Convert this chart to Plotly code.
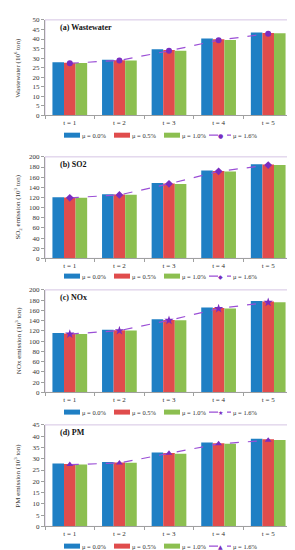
import plotly.graph_objects as go

categories = ["t = 1", "t = 2", "t = 3", "t = 4", "t = 5"]
series_names = ["μ = 0.0%", "μ = 0.5%", "μ = 1.0%", "μ = 1.6%"]

wastewater_00 = [27.9, 29.1, 34.6, 40.3, 43.4]
wastewater_05 = [27.6, 28.9, 34.2, 39.9, 43.2]
wastewater_10 = [27.5, 28.7, 33.9, 39.5, 43.0]
wastewater_16 = [27.3, 28.8, 33.8, 39.4, 42.8]

so2_00 = [120.6, 126.5, 148.6, 172.9, 185.3]
so2_05 = [120.0, 125.8, 147.3, 172.2, 185.0]
so2_10 = [119.4, 125.2, 146.5, 171.0, 184.0]
so2_16 = [119.3, 125.0, 146.8, 171.4, 183.8]

nox_00 = [115.7, 122.0, 142.5, 165.6, 178.3]
nox_05 = [115.0, 121.4, 141.3, 164.9, 177.6]
nox_10 = [113.9, 120.8, 140.6, 163.7, 175.9]
nox_16 = [113.8, 120.5, 140.6, 163.6, 175.8]

pm_00 = [27.9, 28.6, 32.8, 37.2, 38.9]
pm_05 = [27.7, 28.3, 32.5, 36.9, 38.6]
pm_10 = [27.4, 28.2, 32.2, 36.7, 38.3]
pm_16 = [27.4, 28.1, 32.4, 36.6, 38.2]

panels = [
    dict(title="(a) Wastewater", ytitle="Wastewater (10<sup>6</sup> ton)", data=[wastewater_00, wastewater_05, wastewater_10, wastewater_16],
         yrange=[0, 50], dtick=5, symbol="circle", glyph="●", msize=6),
    dict(title="(b) SO2", ytitle="SO<sub>2</sub> emission (10<sup>3</sup> ton)", data=[so2_00, so2_05, so2_10, so2_16],
         yrange=[0, 200], dtick=20, symbol="diamond", glyph="◆", msize=6),
    dict(title="(c) NOx", ytitle="NOx emission (10<sup>3</sup> ton)", data=[nox_00, nox_05, nox_10, nox_16],
         yrange=[0, 200], dtick=20, symbol="star", glyph="★", msize=7),
    dict(title="(d) PM", ytitle="PM emission (10<sup>3</sup> ton)", data=[pm_00, pm_05, pm_10, pm_16],
         yrange=[0, 45], dtick=5, symbol="triangle-up", glyph="▲", msize=6),
]

W, H = 295, 550
plot_px = [(8, 105), (147, 250), (282, 386), (419, 522)]
legend_px = [125, 268, 406, 542]
x_left, x_right = 37, 285
# legend swatch start positions (px) and swatch widths
leg_x = [56, 106, 156, 201]
leg_w = [16, 16, 16, 22]

bar_colors = ["#1f7fc4", "#e04c4c", "#8cbf50"]
line_color = "#9b4fd6"
marker_color = "#7a2cc0"
serif = "Liberation Serif, Times New Roman, serif"

fig = go.Figure()
layout = dict(
    width=W, height=H, margin=dict(l=0, r=0, t=0, b=0),
    paper_bgcolor="white", plot_bgcolor="white",
    barmode="group", bargap=0.3, bargroupgap=0.0, showlegend=False,
    font=dict(family=serif, size=7, color="#333"),
    annotations=[], shapes=[],
)

for i, p in enumerate(panels):
    n = i + 1
    xa = "x" if n == 1 else f"x{n}"
    ya = "y" if n == 1 else f"y{n}"
    for k in range(3):
        fig.add_trace(go.Bar(
            x=categories, y=p["data"][k], name=series_names[k],
            marker=dict(color=bar_colors[k], line=dict(width=0)),
            xaxis=xa, yaxis=ya,
        ))
    fig.add_trace(go.Scatter(
        x=categories, y=p["data"][3], name=series_names[3], mode="lines+markers",
        line=dict(color=line_color, width=1.2, dash="dash"),
        marker=dict(symbol=p["symbol"], size=p["msize"], color=marker_color),
        xaxis=xa, yaxis=ya,
    ))
    top, bot = plot_px[i]
    dom_y = [1 - bot / H, 1 - top / H]
    dom_x = [x_left / W, x_right / W]
    xkey = "xaxis" if n == 1 else f"xaxis{n}"
    ykey = "yaxis" if n == 1 else f"yaxis{n}"
    layout[xkey] = dict(
        domain=dom_x, anchor=ya, type="category", range=[-0.5, 4.5],
        showline=True, linecolor="#a0a0a0", linewidth=1, ticks="outside",
        tickson="boundaries", ticklen=3, tickcolor="#a0a0a0",
        tickfont=dict(size=7, family=serif, color="#333"), showgrid=False,
    )
    layout[ykey] = dict(
        domain=dom_y, anchor=xa, range=p["yrange"], dtick=p["dtick"],
        showline=True, linecolor="#a0a0a0", linewidth=1, ticks="outside",
        ticklen=3, tickcolor="#a0a0a0", showgrid=False, zeroline=False,
        tickfont=dict(size=7, family=serif, color="#333"),
    )
    layout["shapes"].append(dict(
        type="rect", xref="paper", yref="paper",
        x0=dom_x[0], x1=dom_x[1], y0=dom_y[0], y1=dom_y[1],
        line=dict(color="#d5c4e4", width=1), layer="below",
    ))
    layout["annotations"].append(dict(
        text=f"<b>{p['title']}</b>", xref="paper", yref="paper",
        x=50 / W, y=1 - (top + 8) / H, xanchor="left", yanchor="middle",
        showarrow=False, font=dict(size=8, family=serif, color="#111"),
    ))
    layout["annotations"].append(dict(
        text=p["ytitle"], xref="paper", yref="paper", textangle=-90,
        x=10 / W, y=(dom_y[0] + dom_y[1]) / 2, xanchor="center", yanchor="middle",
        showarrow=False, font=dict(size=7, family=serif, color="#333"),
    ))
    # legend row under the panel
    ly = 1 - legend_px[i] / H
    for k in range(4):
        x0 = leg_x[k] / W
        x1 = (leg_x[k] + leg_w[k]) / W
        if k < 3:
            layout["shapes"].append(dict(
                type="line", xref="paper", yref="paper", x0=x0, x1=x1, y0=ly, y1=ly,
                line=dict(color=bar_colors[k], width=5),
            ))
        else:
            layout["shapes"].append(dict(
                type="line", xref="paper", yref="paper", x0=x0, x1=x1, y0=ly, y1=ly,
                line=dict(color=line_color, width=1.2, dash="dash"),
            ))
            layout["annotations"].append(dict(
                text=p["glyph"], xref="paper", yref="paper", x=(x0 + x1) / 2, y=ly,
                xanchor="center", yanchor="middle", showarrow=False,
                font=dict(size=6, color=marker_color, family="DejaVu Sans"),
            ))
        layout["annotations"].append(dict(
            text=series_names[k], xref="paper", yref="paper",
            x=(leg_x[k] + leg_w[k] + 1) / W, y=ly, xanchor="left", yanchor="middle",
            showarrow=False, borderpad=0,
            font=dict(size=6.5, family=serif, color="#333"),
        ))

fig.update_layout(**layout)
fig.write_html("out.html")
